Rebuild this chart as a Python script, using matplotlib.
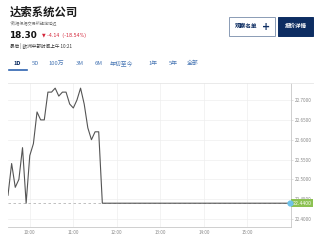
import matplotlib
matplotlib.use('Agg')
import matplotlib.pyplot as plt
from matplotlib.patches import Rectangle
from matplotlib.lines import Line2D

plt.rcParams['font.family'] = ['Noto Sans CJK SC', 'DejaVu Sans']

# intraday quotes
times = ['09:30', '09:35', '09:40', '09:45', '09:50', '09:55', '10:00',
         '10:05', '10:10', '10:15', '10:20', '10:25', '10:30', '10:35',
         '10:40', '10:45', '10:50', '10:55', '11:00', '11:05', '11:10',
         '11:15', '11:20', '11:25', '11:30', '11:35', '11:40', '16:00']
prices = [22.46, 22.54, 22.48, 22.50, 22.58, 22.44, 22.56, 22.59, 22.67,
          22.65, 22.65, 22.72, 22.72, 22.73, 22.71, 22.72, 22.72, 22.69,
          22.68, 22.70, 22.73, 22.69, 22.63, 22.60, 22.62, 22.62, 22.44,
          22.44]
prev_close = 22.44
last_price = 22.44

hour_ticks = ['10:00', '11:00', '12:00', '13:00', '14:00', '15:00']
price_ticks = [22.40, 22.45, 22.50, 22.55, 22.60, 22.65, 22.70]

tabs = ['1D', '5D', '100万', '3M', '6M', '年初至今', '1年', '5年', '全部']
tab_x = [17, 35, 56, 80, 99, 122, 153, 173, 193]

NAVY = '#0d2d62'
TAB_BLUE = '#4a78b5'


def to_hours(s):
    h, m = s.split(':')
    return int(h) + int(m) / 60.0


W, H = 320, 243
fig = plt.figure(figsize=(W / 100, H / 100), dpi=100)
fig.patch.set_facecolor('white')


def fx(px):
    return px / W


def fy(py):
    return 1 - py / H


# header
fig.text(fx(10), fy(12), '达索系统公司', fontsize=8.2, fontweight='bold',
         color='#1a1a1a', va='center', ha='left')
fig.text(fx(10), fy(22.5), '*数据根据交易所规定延迟', fontsize=3.0,
         color='#777777', va='center', ha='left')
fig.text(fx(9.5), fy(36), '18.30', fontsize=6.4, fontweight='bold',
         color='#111111', va='center', ha='left', family='DejaVu Sans')
fig.text(fx(42), fy(35.5), '▼ -4.14  (-18.54%)', fontsize=3.4,
         color='#d4263a', va='center', ha='left', family='DejaVu Sans')
fig.text(fx(9.5), fy(46), '最后 | 欧洲中部时间上午 10:21', fontsize=3.3,
         color='#333333', va='center', ha='left')

# buttons
fig.patches.append(Rectangle((fx(229), fy(36)), fx(46), 19 / H,
                             transform=fig.transFigure, facecolor='white',
                             edgecolor='#8a9bb5', linewidth=0.7))
fig.text(fx(246.5), fy(26.5), '观察名单', fontsize=4.1, color=NAVY,
         va='center', ha='center', fontweight='bold')
fig.text(fx(266.5), fy(26.5), '+', fontsize=7, color=NAVY,
         va='center', ha='center', fontweight='bold', family='DejaVu Sans')
fig.patches.append(Rectangle((fx(278), fy(36)), fx(35), 19 / H,
                             transform=fig.transFigure, facecolor=NAVY,
                             edgecolor=NAVY, linewidth=0.7))
fig.text(fx(295.5), fy(26.5), '报价详情', fontsize=4.0, color='white',
         va='center', ha='center', fontweight='bold')

# range tabs
for name, x in zip(tabs, tab_x):
    first = name == '1D'
    fig.text(fx(x), fy(63), name, fontsize=4.2,
             color=NAVY if first else TAB_BLUE, va='center', ha='center',
             fontweight='bold' if first else 'normal')
fig.lines.append(Line2D([fx(9), fx(27)], [fy(70), fy(70)],
                        transform=fig.transFigure, color='#2f64b0',
                        linewidth=1.2))
fig.lines.append(Line2D([fx(8), fx(313)], [fy(83), fy(83)],
                        transform=fig.transFigure, color='#e6e6e6',
                        linewidth=0.6))

# chart
ax = fig.add_axes([fx(8), fy(227), fx(291 - 8), (227 - 83) / H])
hrs = [to_hours(t) for t in times]
ax.axhline(prev_close, color='#b5b5b5', linewidth=0.6, linestyle=(0, (3, 3)))
ax.plot(hrs, prices, color='#555555', linewidth=0.8, zorder=3)
ax.plot([hrs[-1] - 0.02], [last_price], 'o', color='#6ec3ea', markersize=3.5,
        zorder=4, clip_on=False)

ax.set_xlim(9.5, 16.0)
ax.set_ylim(22.380, 22.743)
ax.set_xticks([to_hours(t) for t in hour_ticks])
ax.set_xticklabels(hour_ticks)
ax.set_yticks(price_ticks)
ax.set_yticklabels(['%.4f' % p for p in price_ticks])
ax.yaxis.tick_right()
ax.grid(True, color='#eeeeee', linewidth=0.5)
ax.set_axisbelow(True)
for side in ['top', 'left']:
    ax.spines[side].set_visible(False)
for side in ['right', 'bottom']:
    ax.spines[side].set_color('#c8c8c8')
    ax.spines[side].set_linewidth(0.6)
ax.tick_params(axis='both', labelsize=3.3, colors='#888888', length=0,
               pad=2)
ax.tick_params(axis='y', length=1.5, width=0.4, color='#c8c8c8', pad=1.0)

# last price label
ax.annotate('%.4f' % last_price, xy=(1.0, last_price),
            xycoords=('axes fraction', 'data'), xytext=(1.2, 0),
            textcoords='offset points', va='center', ha='left',
            fontsize=3.3, color='white', family='DejaVu Sans',
            bbox=dict(boxstyle='square,pad=0.35', facecolor='#8cc152',
                      edgecolor='none'), annotation_clip=False)

fig.savefig('out.png', dpi=100)
